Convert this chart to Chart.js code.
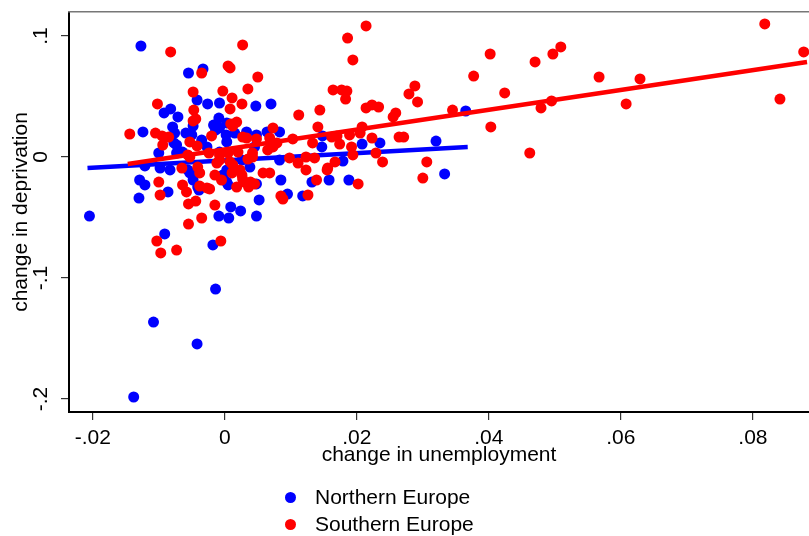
<!DOCTYPE html>
<html>
<head>
<meta charset="utf-8">
<script src="https://cdn.jsdelivr.net/npm/chart.js@4.4.1/dist/chart.umd.min.js"></script>
<style>
html,body{margin:0;padding:0;background:#fff;}
#wrap{position:relative;width:809px;height:536px;overflow:hidden;}
#c{position:absolute;left:0;top:0;}
.leg{position:absolute;left:285px;height:24px;font:21px "Liberation Sans",Arial,sans-serif;color:#000;}
.leg .dot{position:absolute;left:0;top:6.5px;width:11px;height:11px;border-radius:50%;}
.leg .t{position:absolute;left:30px;top:0;line-height:24px;white-space:nowrap;}
</style>
</head>
<body>
<div id="wrap">
<canvas id="c" width="809" height="536"></canvas>
<div class="leg" style="top:485px"><span class="dot" style="background:#0000ff"></span><span class="t">Northern Europe</span></div>
<div class="leg" style="top:512px"><span class="dot" style="background:#ff0000"></span><span class="t">Southern Europe</span></div>
</div>
<script>
// ---- data ----
const seriesNames = ['Northern Europe', 'Southern Europe'];

const northX = [-0.0127,-0.0205,-0.0138,-0.0108,-0.0042,-0.0014,-0.0091,-0.0018,-0.0130,-0.0086,
  0.0009,-0.0009,0.0006,0.0024,0.0052,0.0048,0.0095,0.0118,0.0132,0.0158,
  0.0188,0.0085,0.0048,-0.0039,-0.0055,-0.0033,-0.0042,-0.0026,-0.0008,0.0047,
  -0.0092,-0.0082,-0.0071,-0.0009,-0.0048,-0.0079,-0.0017,-0.0014,-0.0124,-0.0076,
  -0.0059,-0.0077,-0.0035,0.0003,0.0015,0.0045,-0.0100,-0.0073,-0.0056,-0.0083,
  -0.0098,-0.0121,-0.0129,-0.0121,-0.0041,0.0003,-0.0003,0.0070,0.0033,0.0083,
  0.0064,0.0147,0.0148,0.0208,0.0235,0.0365,0.0320,0.0333,0.0179,0.0003,
  -0.0050,-0.0008,0.0002,-0.0073,-0.0064,-0.0027,-0.0008,-0.0053,0.0003,-0.0048,
  0.0048,0.0026,0.0038,0.0083,0.0005];
const northY = [0.0917,-0.0488,-0.1983,-0.1364,-0.1545,-0.1091,-0.0636,-0.0727,-0.0339,-0.0289,
  -0.0413,-0.0488,-0.0504,-0.0446,-0.0355,-0.0488,-0.0306,-0.0322,-0.0207,-0.0190,
  -0.0190,-0.0190,-0.0223,-0.0273,0.0694,0.0727,0.0471,0.0438,0.0446,0.0421,
  0.0364,0.0397,0.0331,0.0322,0.0256,0.0248,0.0264,0.0223,0.0207,0.0198,
  0.0198,0.0116,0.0140,0.0124,0.0198,0.0083,0.0033,0.0033,-0.0107,-0.0107,
  -0.0091,-0.0074,-0.0190,-0.0231,-0.0248,-0.0207,-0.0149,0.0438,0.0207,0.0207,
  0.0207,0.0083,0.0174,0.0107,0.0116,0.0380,0.0132,-0.0140,-0.0033,0.0281,
  0.0182,0.0240,0.0182,0.0099,0.0041,0.0083,0.0041,-0.0132,-0.0107,-0.0190,
  0.0182,-0.0025,-0.0083,-0.0025,-0.0231];

const southX = [-0.0082,0.0027,-0.0035,0.0005,0.0008,0.0050,0.0035,-0.0048,-0.0003,0.0011,
  0.0026,-0.0102,-0.0047,0.0008,-0.0044,-0.0048,0.0018,0.0009,0.0012,-0.0144,
  -0.0105,-0.0095,-0.0085,-0.0094,-0.0053,-0.0042,-0.0020,0.0027,0.0033,-0.0065,
  -0.0053,-0.0041,-0.0038,-0.0008,-0.0012,0.0012,0.0011,0.0023,0.0035,0.0042,
  -0.0100,-0.0064,-0.0058,-0.0027,-0.0098,-0.0015,-0.0005,0.0026,0.0030,0.0039,
  -0.0103,-0.0097,-0.0073,-0.0006,-0.0055,-0.0035,-0.0015,-0.0055,-0.0044,-0.0038,
  -0.0023,0.0018,0.0036,0.0045,0.0085,0.0088,0.0126,0.0139,0.0202,0.0186,
  0.0214,0.0194,0.0164,0.0177,0.0185,0.0183,0.0112,0.0144,0.0214,0.0223,
  0.0233,0.0255,0.0259,0.0141,0.0073,0.0048,0.0068,0.0079,0.0103,0.0133,
  0.0174,0.0192,0.0208,0.0205,0.0223,0.0264,0.0229,0.0239,0.0194,0.0167,
  0.0156,0.0136,0.0123,0.0111,0.0123,0.0098,0.0058,0.0068,0.0027,0.0818,
  0.0877,0.0841,0.0402,0.0470,0.0497,0.0509,0.0377,0.0567,0.0629,0.0288,
  0.0279,0.0292,0.0424,0.0608,0.0495,0.0479,0.0345,0.0403,0.0271,0.0462,
  0.0306,0.0300,0.0189,0.0170,-0.0056,-0.0024,-0.0008,0.0005,0.0073,0.0065,
  0.0162,0.0020,0.0042,0.0008,0.0155];
const southY = [0.0868,0.0926,0.0694,0.0752,0.0736,0.0661,0.0562,0.0537,0.0545,0.0488,
  0.0438,0.0438,0.0388,0.0397,0.0314,0.0298,0.0289,0.0273,0.0256,0.0190,
  0.0198,0.0174,0.0165,0.0099,0.0124,0.0091,0.0174,0.0165,0.0157,-0.0091,
  0.0000,-0.0083,-0.0132,0.0017,-0.0050,-0.0066,-0.0132,-0.0107,-0.0017,0.0000,
  -0.0207,-0.0231,-0.0289,-0.0256,-0.0314,-0.0149,-0.0190,-0.0149,-0.0207,-0.0207,
  -0.0694,-0.0793,-0.0769,-0.0694,-0.0554,-0.0504,-0.0397,-0.0388,-0.0364,-0.0240,
  -0.0264,-0.0248,-0.0248,-0.0223,-0.0322,-0.0347,-0.0314,-0.0190,-0.0223,0.0983,
  0.1083,0.0802,0.0554,0.0554,0.0545,0.0479,0.0347,0.0388,0.0405,0.0430,
  0.0413,0.0331,0.0364,0.0248,0.0240,0.0149,0.0157,0.0116,0.0149,0.0116,
  0.0107,0.0083,0.0248,0.0198,0.0157,0.0165,0.0033,-0.0041,0.0017,-0.0041,
  -0.0091,-0.0008,0.0000,-0.0050,-0.0107,-0.0008,-0.0132,-0.0132,-0.0182,0.1099,
  0.0868,0.0479,0.0851,0.0785,0.0851,0.0909,0.0669,0.0661,0.0645,0.0587,
  0.0521,0.0455,0.0529,0.0438,0.0463,0.0405,0.0388,0.0248,0.0165,0.0033,
  -0.0041,-0.0174,0.0182,0.0174,0.0017,0.0033,-0.0025,0.0033,0.0083,0.0058,
  0.0165,0.0041,0.0033,-0.0041,-0.0107];

// fitted lines (end points)
const northFitX = [-0.0208, 0.0368];
const northFitY = [-0.0091, 0.0083];
const southFitX = [-0.0147, 0.0882];
const southFitY = [-0.0058, 0.0785];

// axes
const xRange = [-0.0236, 0.0885];
const yRange = [-0.2107, 0.1198];
const xTickValues = [-0.02, 0, 0.02, 0.04, 0.06, 0.08];
const xTickLabels = ['-.02', '0', '.02', '.04', '.06', '.08'];
const yTickValues = [-0.2, -0.1, 0, 0.1];
const yTickLabels = ['-.2', '-.1', '0', '.1'];
const xTitle = 'change in unemployment';
const yTitle = 'change in deprivation';

// ---- chart ----
const BLUE = '#0000ff', RED = '#ff0000';
const pts = (xs, ys) => xs.map((x, i) => ({x: x, y: ys[i]}));
const noPad = s => { s.paddingLeft = 0; s.paddingRight = 0; s.paddingTop = 0; s.paddingBottom = 0; };
Chart.defaults.font.family = '"Liberation Sans", Arial, sans-serif';
Chart.defaults.color = '#000';

new Chart(document.getElementById('c'), {
  type: 'scatter',
  data: {
    datasets: [
      {label: seriesNames[1] + ' fit', data: pts(southFitX, southFitY), showLine: true, borderColor: RED,
       borderWidth: 4.5, pointRadius: 0, fill: false, order: 0},
      {label: seriesNames[1], data: pts(southX, southY), backgroundColor: RED, pointRadius: 5.5,
       pointBorderWidth: 0, borderWidth: 0, order: 1},
      {label: seriesNames[0] + ' fit', data: pts(northFitX, northFitY), showLine: true, borderColor: BLUE,
       borderWidth: 4.5, pointRadius: 0, fill: false, order: 2},
      {label: seriesNames[0], data: pts(northX, northY), backgroundColor: BLUE, pointRadius: 5.5,
       pointBorderWidth: 0, borderWidth: 0, order: 3}
    ]
  },
  options: {
    responsive: false,
    animation: false,
    layout: {autoPadding: false, padding: {top: 12, right: 0, bottom: 68, left: 0}},
    plugins: {legend: {display: false}, tooltip: {enabled: false}},
    scales: {
      x: {
        type: 'linear', position: 'bottom', min: xRange[0], max: xRange[1],
        afterBuildTicks: s => { s.ticks = xTickValues.map(v => ({value: v})); },
        afterFit: s => { s.height = 56; noPad(s); },
        ticks: {
          callback: v => { const i = xTickValues.indexOf(v); return i >= 0 ? xTickLabels[i] : ''; },
          color: '#000', font: {size: 21}, padding: 6, maxRotation: 0, autoSkip: false
        },
        grid: {drawOnChartArea: false, drawTicks: true, tickLength: 8, color: '#333', lineWidth: 1.2},
        border: {color: '#000', width: 2},
        title: {display: true, text: xTitle, color: '#000', font: {size: 21}, padding: {top: 0, bottom: 0}}
      },
      y: {
        type: 'linear', position: 'left', min: yRange[0], max: yRange[1],
        afterBuildTicks: s => { s.ticks = yTickValues.map(v => ({value: v})); },
        afterFit: s => { s.width = 69; noPad(s); },
        ticks: {
          callback: v => { const i = yTickValues.indexOf(v); return i >= 0 ? yTickLabels[i] : ''; },
          color: '#000', font: {size: 21}, padding: 8, minRotation: 90, maxRotation: 90,
          crossAlign: 'center', autoSkip: false
        },
        grid: {drawOnChartArea: false, drawTicks: true, tickLength: 8, color: '#333', lineWidth: 1.2},
        border: {color: '#000', width: 2},
        title: {display: true, text: yTitle, color: '#000', font: {size: 21}, padding: {top: 9, bottom: 0}}
      },
      x2: {
        type: 'linear', position: 'top', display: true,
        ticks: {display: false},
        grid: {display: false, drawTicks: false},
        border: {color: '#777', width: 1.5},
        afterFit: s => { s.height = 0; noPad(s); }
      }
    }
  }
});
</script>
</body>
</html>
